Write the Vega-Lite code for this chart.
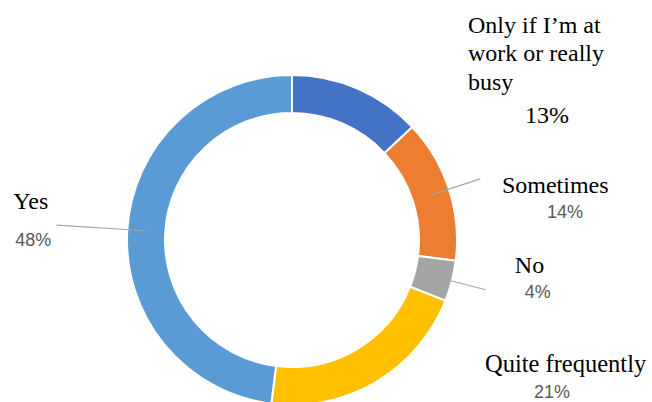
{
  "$schema": "https://vega.github.io/schema/vega-lite/v6.json",
  "autosize": "none",
  "width": 584,
  "height": 324,
  "padding": {"left": 0, "top": 78, "right": 68, "bottom": 0},
  "background": "white",
  "config": {"view": {"stroke": null}},
  "data": {
    "values": [
      {"rank": 1, "cat": "Only if I’m at\nwork or really\nbusy", "share": 0.13},
      {"rank": 2, "cat": "Sometimes", "share": 0.14},
      {"rank": 3, "cat": "No", "share": 0.04},
      {"rank": 4, "cat": "Quite frequently", "share": 0.21},
      {"rank": 5, "cat": "Yes", "share": 0.48}
    ]
  },
  "encoding": {
    "theta": {"field": "share", "type": "quantitative", "stack": true},
    "order": {"field": "rank", "type": "quantitative"}
  },
  "layer": [
    {
      "mark": {"type": "arc", "outerRadius": 165, "innerRadius": 127, "stroke": "white", "strokeWidth": 2},
      "encoding": {
        "color": {
          "field": "rank", "type": "nominal", "legend": null,
          "scale": {"domain": [1, 2, 3, 4, 5], "range": ["#4472C4", "#ED7D31", "#A5A5A5", "#FFC000", "#5B9BD5"]}
        }
      }
    },
    {
      "mark": {"type": "arc", "outerRadius": 236, "innerRadius": 147, "padAngle": 3.1, "filled": false, "stroke": "#a6a6a6", "strokeWidth": 1.2},
      "encoding": {"strokeOpacity": {"condition": {"test": "datum.rank === 5", "value": 1}, "value": 0}}
    },
    {
      "mark": {"type": "arc", "outerRadius": 198, "innerRadius": 147, "padAngle": 3.1, "filled": false, "stroke": "#a6a6a6", "strokeWidth": 1.2},
      "encoding": {"strokeOpacity": {"condition": {"test": "datum.rank === 2", "value": 1}, "value": 0}}
    },
    {
      "mark": {"type": "arc", "outerRadius": 200, "innerRadius": 160, "padAngle": 3.1, "filled": false, "stroke": "#a6a6a6", "strokeWidth": 1.2},
      "encoding": {"strokeOpacity": {"condition": {"test": "datum.rank === 3", "value": 1}, "value": 0}}
    },
    {
      "mark": {"type": "text", "radius": 165, "dx": 110.5, "dy": -55.6, "align": "left", "baseline": "alphabetic", "font": "Liberation Serif", "fontSize": 24, "lineHeight": 28.5, "lineBreak": "\n", "color": "#000000"},
      "encoding": {"text": {"condition": {"test": "datum.rank === 1", "field": "cat"}, "value": ""}}
    },
    {
      "mark": {"type": "text", "radius": 165, "dx": 189.5, "dy": 34.4, "align": "center", "baseline": "alphabetic", "font": "Liberation Serif", "fontSize": 24, "color": "#000000"},
      "encoding": {"text": {"condition": {"test": "datum.rank === 1", "field": "share", "format": ".0%"}, "value": ""}}
    },
    {
      "mark": {"type": "text", "radius": 165, "dx": 53, "dy": 4, "align": "left", "baseline": "alphabetic", "font": "Liberation Serif", "fontSize": 24, "color": "#000000"},
      "encoding": {"text": {"condition": {"test": "datum.rank === 2", "field": "cat"}, "value": ""}}
    },
    {
      "mark": {"type": "text", "radius": 165, "dx": 116, "dy": 29, "align": "center", "baseline": "alphabetic", "font": "Liberation Sans", "fontSize": 18, "color": "#595959"},
      "encoding": {"text": {"condition": {"test": "datum.rank === 2", "field": "share", "format": ".0%"}, "value": ""}}
    },
    {
      "mark": {"type": "text", "radius": 165, "dx": 63, "dy": -8, "align": "left", "baseline": "alphabetic", "font": "Liberation Serif", "fontSize": 24, "color": "#000000"},
      "encoding": {"text": {"condition": {"test": "datum.rank === 3", "field": "cat"}, "value": ""}}
    },
    {
      "mark": {"type": "text", "radius": 165, "dx": 86, "dy": 17, "align": "center", "baseline": "alphabetic", "font": "Liberation Sans", "fontSize": 18, "color": "#595959"},
      "encoding": {"text": {"condition": {"test": "datum.rank === 3", "field": "share", "format": ".0%"}, "value": ""}}
    },
    {
      "mark": {"type": "text", "radius": 165, "dx": 109, "dy": -10, "align": "left", "baseline": "alphabetic", "font": "Liberation Serif", "fontSize": 24.5, "color": "#000000"},
      "encoding": {"text": {"condition": {"test": "datum.rank === 4", "field": "cat"}, "value": ""}}
    },
    {
      "mark": {"type": "text", "radius": 165, "dx": 176, "dy": 15.5, "align": "center", "baseline": "alphabetic", "font": "Liberation Sans", "fontSize": 18, "color": "#595959"},
      "encoding": {"text": {"condition": {"test": "datum.rank === 4", "field": "share", "format": ".0%"}, "value": ""}}
    },
    {
      "mark": {"type": "text", "radius": 165, "dx": -114, "dy": -20.6, "align": "left", "baseline": "alphabetic", "font": "Liberation Serif", "fontSize": 24, "color": "#000000"},
      "encoding": {"text": {"condition": {"test": "datum.rank === 5", "field": "cat"}, "value": ""}}
    },
    {
      "mark": {"type": "text", "radius": 165, "dx": -94, "dy": 16.4, "align": "center", "baseline": "alphabetic", "font": "Liberation Sans", "fontSize": 18, "color": "#595959"},
      "encoding": {"text": {"condition": {"test": "datum.rank === 5", "field": "share", "format": ".0%"}, "value": ""}}
    }
  ]
}
